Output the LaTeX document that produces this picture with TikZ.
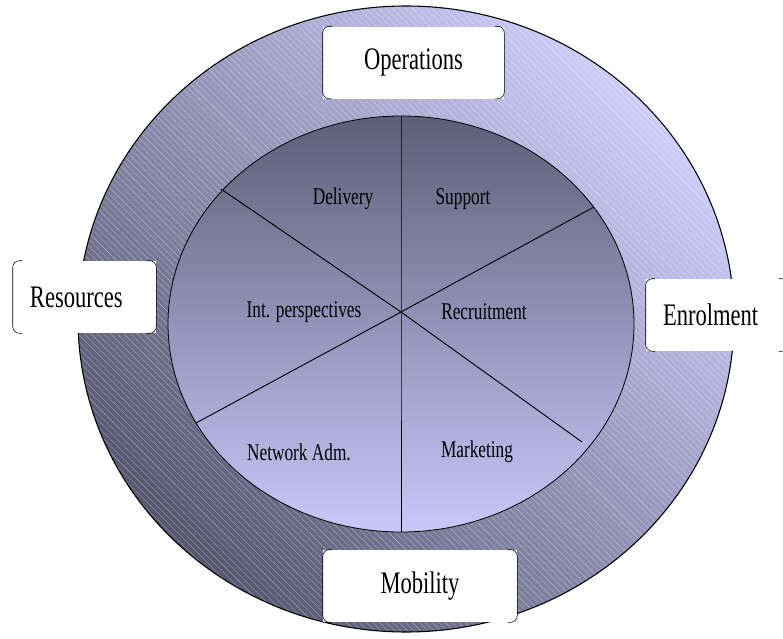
\documentclass[tikz,border=0pt]{standalone}
\usepackage{fontspec}
\setmainfont{Liberation Serif}[FakeStretch=0.72]
\usepackage{tikz}
\usetikzlibrary{patterns.meta}
\definecolor{ringlight}{HTML}{CCCCFA}
\definecolor{ringdark}{HTML}{56566F}
\definecolor{hublight}{HTML}{C8C8FA}
\definecolor{hubdark}{HTML}{5E5E78}

\begin{document}
\begin{tikzpicture}[x=0.75pt, y=-0.75pt,
    tag/.style={rectangle, fill=white, inner sep=0pt, minimum height=54pt, font=\fontsize{23.5}{25}\selectfont},
    part/.style={font=\fontsize{18}{20}\selectfont, inner sep=1pt}]
\useasboundingbox (0,0) rectangle (783,639);

% outer ring
\shade[top color=ringlight, bottom color=ringdark, shading angle=-45] (406,319) ellipse [x radius=328, y radius=313];
\fill[pattern={Lines[angle=-45, distance=3.5pt, line width=0.3pt]}, pattern color=white, opacity=0.4] (406,319) ellipse [x radius=328, y radius=313];
\draw[line width=0.8pt] (406,319) ellipse [x radius=328, y radius=313];

% inner hub
\shade[top color=hubdark, bottom color=hublight] (401,324) ellipse [x radius=233, y radius=208];
\draw[line width=0.6pt] (401,324) ellipse [x radius=233, y radius=208];

\coordinate (hub) at (401,312);
\draw[line width=0.7pt] (401,116) -- (hub) -- (401,532);
\draw[line width=0.7pt] (221,189) -- (hub) -- (582,442);
\draw[line width=0.7pt] (594,207) -- (hub) -- (196,423);

\node[part] (delivery) at (343,199) {Delivery};
\node[part] (support) at (463,199) {Support};
\node[part] (intp) at (304,312) {Int. perspectives};
\node[part] (recruit) at (484,312) {Recruitment};
\node[part] (netadm) at (299,452) {Network Adm.};
\node[part] (market) at (477,452) {Marketing};

% outer tags
\node[tag, minimum width=135.75pt] (ops) at (413.5,62.5) {Operations};
\node[tag, text width=81.75pt, inner xsep=12.75pt, align=left] (res) at (84.5,297) {Resources};
\node[tag, text width=81pt, inner xsep=12.75pt, align=left] (enr) at (717,315) {Enrolment};
\node[tag, minimum width=145.5pt] (mob) at (420,586) {Mobility};

\foreach \b in {ops,res,enr,mob} {
    \draw[rounded corners=5pt] ([xshift=7pt]\b.north west) -- (\b.north west) -- (\b.south west) -- ([xshift=7pt]\b.south west);
    \draw[rounded corners=5pt] ([xshift=-7pt]\b.north east) -- (\b.north east) -- (\b.south east) -- ([xshift=-7pt]\b.south east);
}
\end{tikzpicture}
\end{document}
